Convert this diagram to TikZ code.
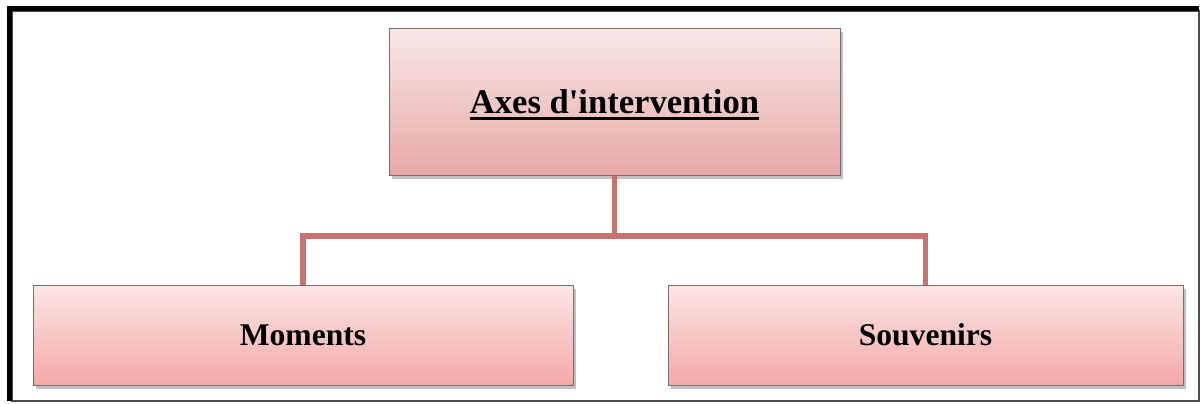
\documentclass[tikz,border=0pt]{standalone}
\usepackage{fontspec}
\defaultfontfeatures[\rmfamily,\sffamily]{}
\setmainfont{Liberation Serif}[Ligatures=ResetAll]
\newcommand\thickul[1]{\leavevmode\setbox0\hbox{#1}\rlap{\vrule height -2.1pt depth 3.5pt width \wd0}\box0}
\usetikzlibrary{shadows}
\definecolor{conncol}{RGB}{200,114,114}
\definecolor{topA}{RGB}{249,232,232}
\definecolor{topB}{RGB}{231,168,168}
\definecolor{botA}{RGB}{252,230,230}
\definecolor{botB}{RGB}{244,168,168}
\definecolor{edgecol}{RGB}{120,110,110}
\tikzset{
  box/.style={rectangle, draw=edgecol, line width=0.5pt, align=center,
    font=\bfseries,
    drop shadow={shadow xshift=1.5pt, shadow yshift=-1.8pt, opacity=0.35, fill=black!70}},
  topbox/.style={box, top color=topA, bottom color=topB, minimum width=225.5pt, minimum height=73.5pt, font=\fontsize{17.3}{20}\selectfont\bfseries},
  botbox/.style={box, top color=botA, bottom color=botB, minimum height=50pt, font=\fontsize{15.8}{19}\selectfont\bfseries},
  conn/.style={draw=conncol, line width=2.6pt}
}
\begin{document}
\begin{tikzpicture}[x=0.5pt, y=-0.5pt]
\useasboundingbox (0,0) rectangle (1200,403);
\fill[white] (0,0) rectangle (1200,403);
% frame
\draw[black!70, line width=0.6pt] (12,11) rectangle (1199,401);
\fill[black] (7,6) rectangle (1199,11);
\fill[black] (7,6) rectangle (12,401);
% nodes
\node[topbox] (top) at (614.5,101.5) {};
\node at ([yshift=-1.5pt]top.center) [font=\fontsize{17.3}{20}\selectfont\bfseries] (toptext) {\thickul{Axes d'intervention}};
\node[botbox, minimum width=270pt] (left) at (303,335) {Moments};
\node[botbox, minimum width=257.5pt] (right) at (925.5,335) {Souvenirs};
\coordinate (j) at (614.5,236);
\draw[conn] (top.south) -- (j) -| (left.north);
\draw[conn] (j) -| (right.north);
\end{tikzpicture}
\end{document}
